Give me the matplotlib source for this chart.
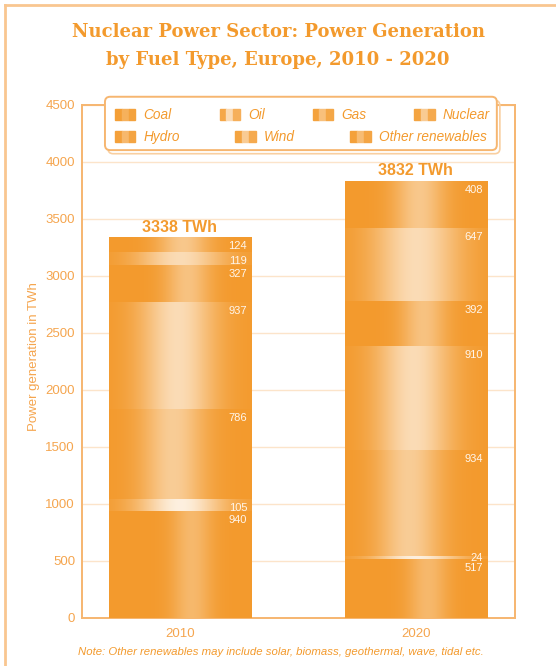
import matplotlib.pyplot as plt
import matplotlib.colors as mcolors
import numpy as np
from matplotlib.patches import Rectangle, FancyBboxPatch
from matplotlib.lines import Line2D
from matplotlib.legend import Legend
from matplotlib.legend_handler import HandlerTuple

plt.rcParams['font.family'] = ['Liberation Sans', 'DejaVu Sans']

# data (TWh), bottom to top of each stack
years = ['2010', '2020']
fuels = ['Coal', 'Oil', 'Gas', 'Nuclear', 'Hydro', 'Wind', 'Other renewables']
gen_2010 = [940, 105, 786, 937, 327, 119, 124]
gen_2020 = [517, 24, 934, 910, 392, 647, 408]
totals = [3338, 3832]

orange = '#F39A2D'
pale = '#F5A54E'
# white "shine" on each fuel's bar: amount, centre, width
shine = {
    'Coal': (0.30, 0.58, 0.14),
    'Oil': (0.85, 0.50, 0.30),
    'Gas': (0.50, 0.45, 0.22),
    'Nuclear': (0.65, 0.48, 0.26),
    'Hydro': (0.40, 0.55, 0.16),
    'Wind': (0.65, 0.50, 0.30),
    'Other renewables': (0.45, 0.52, 0.18),
}


def shade(amount, centre, width, n=200):
    t = np.linspace(0, 1, n)
    w = amount * np.exp(-((t - centre) / width) ** 2)
    base = np.array(mcolors.to_rgb(orange))
    rgb = base[None, :] * (1 - w[:, None]) + w[:, None]
    return rgb[None, :, :]


def mix(amount):
    base = np.array(mcolors.to_rgb(orange))
    return tuple(base * (1 - amount) + amount)


fig = plt.figure(figsize=(5.56, 6.66), dpi=100)
ax = fig.add_axes([0.1475, 0.0721, 0.7788, 0.7703])

x = np.arange(len(years))
bottoms = np.zeros(len(years))
for i, fuel in enumerate(fuels):
    vals = np.array([gen_2010[i], gen_2020[i]])
    bars = ax.bar(x, vals, 0.605, bottom=bottoms, color=orange, zorder=2)
    for rect, v in zip(bars, vals):
        x0, y0 = rect.get_x(), rect.get_y()
        ax.imshow(shade(*shine[fuel]), extent=[x0, x0 + rect.get_width(), y0, y0 + rect.get_height()],
                  aspect='auto', zorder=3, interpolation='bilinear')
        off = -6.5 if v > 60 else -1.5
        ax.annotate(str(v), (x0 + rect.get_width(), y0 + rect.get_height()), xytext=(-3, off),
                    textcoords='offset points', ha='right', va='center', color='#FFF6EC',
                    fontsize=8, zorder=5)
    bottoms += vals

for xi, t in zip(x, totals):
    ax.annotate(f'{t} TWh', (xi, t), xytext=(0, 2), textcoords='offset points', ha='center',
                va='bottom', fontsize=11.5, fontweight='bold', color=orange)

ax.set_xlim(-0.415, 1.42)
ax.set_ylim(0, 4500)
ax.set_yticks(range(0, 4501, 500))
ax.set_xticks(x, years)
ax.tick_params(axis='both', length=0, labelcolor=pale, labelsize=9.5)
ax.tick_params(axis='y', pad=5)
ax.tick_params(axis='x', pad=7)
ax.yaxis.grid(True, color='#FCE4CA', lw=1)
ax.set_axisbelow(True)
for s in ax.spines.values():
    s.set_color('#F6B670')
    s.set_linewidth(1.4)
ax.set_ylabel('Power generation in TWh', color=pale, fontsize=9.5)
ax.yaxis.set_label_coords(-0.097, 0.509)

# legend box with a shadow
ma = 433 / 513
shadow = FancyBboxPatch((0.060, 0.905), 0.905, 0.104, boxstyle='round,pad=0,rounding_size=0.012',
                        mutation_aspect=ma, transform=ax.transAxes, clip_on=False,
                        facecolor='none', edgecolor='#F9CFA0', lw=1.2, zorder=6)
box = FancyBboxPatch((0.053, 0.912), 0.905, 0.104, boxstyle='round,pad=0,rounding_size=0.012',
                     mutation_aspect=ma, transform=ax.transAxes, clip_on=False,
                     facecolor='white', edgecolor='#F6B670', lw=1.4, zorder=7)
ax.add_patch(shadow)
ax.add_patch(box)

handles = {}
for fuel in fuels:
    a = shine[fuel][0]
    handles[fuel] = (Rectangle((0, 0), 1, 1, color=mix(a * 0.15)),
                     Rectangle((0, 0), 1, 1, color=mix(a * 0.75)),
                     Rectangle((0, 0), 1, 1, color=mix(a * 0.25)))

rows = [(['Coal', 'Oil', 'Gas', 'Nuclear'], 0.9805, 0.942),
        (['Hydro', 'Wind', 'Other renewables'], 0.9376, 0.935)]
for names, yc, xr in rows:
    leg = Legend(ax, [handles[n] for n in names], names, ncol=len(names), mode='expand',
                 loc='center', bbox_to_anchor=(0.076, yc - 0.02, xr - 0.076, 0.04),
                 frameon=False, borderpad=0, borderaxespad=0, handlelength=1.5,
                 handleheight=0.9, handletextpad=0.6,
                 handler_map={tuple: HandlerTuple(ndivide=None, pad=0)},
                 prop={'size': 9.8, 'style': 'italic'})
    for t in leg.get_texts():
        t.set_color(orange)
    leg.set_zorder(8)
    ax.add_artist(leg)

fig.text(0.5, 1 - 46 / 666, 'Nuclear Power Sector: Power Generation\nby Fuel Type, Europe, 2010 - 2020',
         ha='center', va='center', fontsize=13, fontweight='bold', color=orange,
         family='DejaVu Serif', linespacing=1.7)
fig.text(0.505, 1 - 652 / 666,
         'Note: Other renewables may include solar, biomass, geothermal, wave, tidal etc.',
         ha='center', va='center', fontsize=8.2, style='italic', color=orange)

# outer page border
fig.add_artist(Line2D([5 / 556, 5 / 556], [0, 1 - 5 / 666], color='#F9C690', lw=2))
fig.add_artist(Line2D([5 / 556, 1], [1 - 5 / 666, 1 - 5 / 666], color='#F9C690', lw=2))

fig.savefig('out.png', dpi=100)
